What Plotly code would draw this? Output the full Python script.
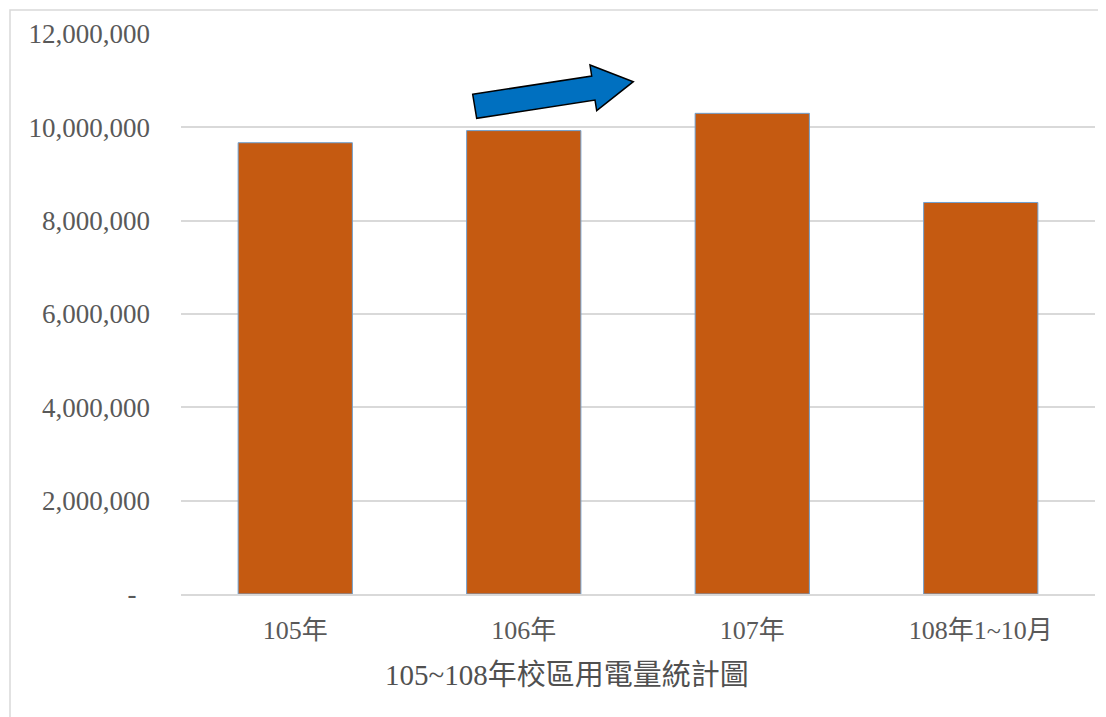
import plotly.graph_objects as go

categories = ["105年", "106年", "107年", "108年1~10月"]
usage_kwh = [9670000, 9930000, 10300000, 8390000]
y_tickvals = [0, 2000000, 4000000, 6000000, 8000000, 10000000, 12000000]
y_ticktext = ["-\u00a0\u00a0", "2,000,000", "4,000,000", "6,000,000", "8,000,000", "10,000,000", "12,000,000"]
title_text = "105~108年校區用電量統計圖"

# page body has an 8px offset; work in screen coordinates and convert
OFF = 8
W, H = 1106 - OFF, 717 - OFF
L, R, T, B = 181 - OFF, 11, 34 - OFF, 123
PW, PH = W - L - R, H - T - B

def px(x):
    return (x - OFF - L) / PW

def py(y):
    return (H - B - (y - OFF)) / PH

FONT = "Liberation Serif, 'Times New Roman', 'Noto Sans CJK TC', serif"

fig = go.Figure()
fig.add_trace(go.Bar(
    x=categories, y=usage_kwh,
    marker=dict(color="#C55A11", line=dict(color="#6FA0D0", width=1)),
    hoverinfo="x+y",
))

# arrow (decorative)
pts = [(472.7, 94.3), (591.7, 76), (590, 65), (633.3, 81.7), (596.7, 110.7), (595, 100), (476.7, 118.3)]
path = "M " + " L ".join(f"{px(a):.5f},{py(b):.5f}" for a, b in pts) + " Z"
fig.add_shape(type="path", path=path, xref="paper", yref="paper",
              fillcolor="#0070C0", line=dict(color="#000000", width=1.5), layer="above")

# outer border
fig.add_shape(type="rect", xref="paper", yref="paper",
              x0=px(10), x1=px(1112), y0=py(725), y1=py(10),
              line=dict(color="#D9D9D9", width=1.5), fillcolor="rgba(0,0,0,0)", layer="below")

fig.add_annotation(text=title_text, xref="paper", yref="paper",
                   x=px(567), y=py(675), showarrow=False, xanchor="center", yanchor="middle",
                   font=dict(family=FONT, size=29, color="#505050"))

fig.update_layout(
    width=W, height=H,
    margin=dict(l=L, r=R, t=T, b=B, autoexpand=False),
    paper_bgcolor="white", plot_bgcolor="white",
    bargap=0.5, showlegend=False,
    font=dict(family=FONT, color="#595959"),
)
fig.update_xaxes(
    showgrid=False, showline=True, linecolor="#D9D9D9", linewidth=1.5,
    tickfont=dict(family=FONT, size=26, color="#595959"),
    ticks="", ticklabelstandoff=12,
)
fig.update_yaxes(
    range=[0, 12000000], tickvals=y_tickvals, ticktext=y_ticktext,
    showgrid=True, gridcolor="#D9D9D9", gridwidth=1.5, zeroline=False,
    tickfont=dict(family=FONT, size=27, color="#595959"),
    ticks="", ticklabelstandoff=30, showline=False,
)

fig.write_html("out.html")
